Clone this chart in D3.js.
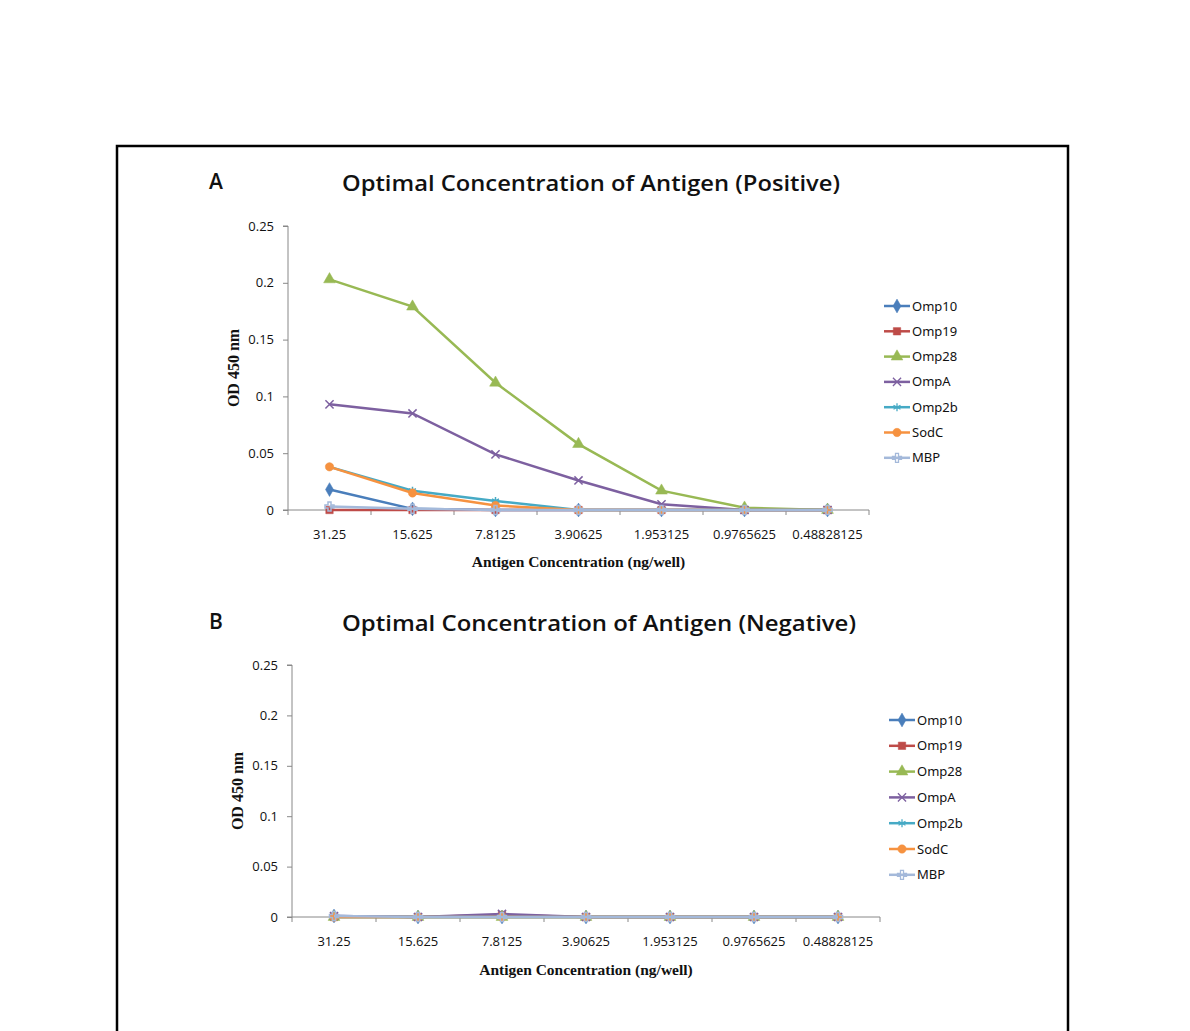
<!DOCTYPE html>
<html><head><meta charset="utf-8">
<script src="https://cdn.jsdelivr.net/npm/d3@7"></script>
<style>body{margin:0;background:#fff;} svg{display:block;}</style>
</head><body>
<svg id="c" width="1190" height="1031"></svg>
<script>
const categories = ["31.25","15.625","7.8125","3.90625","1.953125","0.9765625","0.48828125"];
const seriesNames = ["Omp10","Omp19","Omp28","OmpA","Omp2b","SodC","MBP"];
const seriesColors = ["#4A7EBB","#BE4B48","#98B954","#7D60A0","#46AAC5","#F69240","#A4B9DA"];
const seriesMarkers = ["diamond","square","triangle","x","star","circle","plus"];
const yTicks = [0,0.05,0.1,0.15,0.2,0.25];

// Panel A (Positive)
const posOmp10 = [0.018,0.001,0,0,0,0,0];
const posOmp19 = [0,0,0,0,0,0,0];
const posOmp28 = [0.203,0.179,0.112,0.058,0.017,0.002,0.0];
const posOmpA  = [0.093,0.085,0.049,0.026,0.005,0,0];
const posOmp2b = [0.038,0.017,0.008,0,0,0,0];
const posSodC  = [0.038,0.015,0.004,0,0,0,0];
const posMBP   = [0.003,0.001,0,0,0,0,0];

// Panel B (Negative)
const negOmp10 = [0.001,0,0,0,0,0,0];
const negOmp19 = [0,0,0.002,0,0,0,0];
const negOmp28 = [0,0,0,0,0,0,0];
const negOmpA  = [0.001,0,0.003,0,0,0,0];
const negOmp2b = [0,0,0,0,0,0,0];
const negSodC  = [0,0,0,0,0,0,0];
const negMBP   = [0.001,0,0,0,0,0,0];

const svg = d3.select("#c");
// outer frame
svg.append("rect").attr("x",117).attr("y",146).attr("width",951).attr("height",900)
  .attr("fill","none").attr("stroke","#000").attr("stroke-width",2.5);

function markerPath(type){
  const s = {diamond:d3.symbolDiamond,square:d3.symbolSquare,triangle:d3.symbolTriangle,
             circle:d3.symbolCircle,x:d3.symbolTimes,plus:d3.symbolCross,star:d3.symbolAsterisk}[type];
  let size = 55;
  if(type==="x"||type==="plus"||type==="star") size = 45;
  if(type==="triangle") size = 60;
  return d3.symbol(s, size)();
}
function strokeMarker(type){ return type==="x"||type==="star"||type==="plus"; }

function panel(cfg){
  const g = svg.append("g");
  const x = d3.scaleBand().domain(categories).range([cfg.x0,cfg.x1]);
  const y = d3.scaleLinear().domain([0,0.25]).range([cfg.y0,cfg.y1]);

  // letter & title
  g.append("text").attr("x",cfg.letterX).attr("y",cfg.letterY).text(cfg.letter)
    .attr("font-family","Open Sans, sans-serif").attr("font-weight",600).attr("font-size",21).attr("fill","#111");
  g.append("text").attr("x",cfg.titleX).attr("y",cfg.titleY).attr("text-anchor","middle")
    .text(cfg.title).attr("font-family","Open Sans, sans-serif").attr("font-weight",600).attr("font-size",22)
    .attr("textLength",cfg.titleLen).attr("lengthAdjust","spacingAndGlyphs").attr("fill","#111");

  // y axis
  const ya = d3.axisLeft(y).tickValues(yTicks).tickFormat(d=>d===0?"0":String(d)).tickSize(5).tickPadding(9);
  const yg = g.append("g").attr("transform",`translate(${cfg.x0},0)`).call(ya);
  yg.select(".domain").attr("stroke","#888").attr("d",`M-5,${cfg.y1}H0V${cfg.y0}`);
  yg.selectAll(".tick line").attr("stroke","#888");
  yg.selectAll("text").attr("font-family","Open Sans, sans-serif").attr("font-size",13).attr("fill","#111");

  // x axis
  const xa = d3.axisBottom(x).tickSize(0).tickPadding(20);
  const xg = g.append("g").attr("transform",`translate(0,${cfg.y0})`).call(xa);
  xg.select(".domain").attr("stroke","#888").attr("d",`M${cfg.x0-5},0H${cfg.x1}`);
  xg.selectAll("text").attr("font-family","Open Sans, sans-serif").attr("font-size",13).attr("fill","#111");
  // boundary ticks
  const bounds = categories.map(c=>x(c)).concat([cfg.x1]);
  xg.selectAll(".btick").data(bounds).enter().append("line").attr("class","btick")
    .attr("x1",d=>d).attr("x2",d=>d).attr("y1",0).attr("y2",5).attr("stroke","#888");

  // axis titles
  g.append("text").attr("x",(cfg.x0+cfg.x1)/2).attr("y",cfg.xTitleY).attr("text-anchor","middle")
    .text("Antigen Concentration (ng/well)").attr("font-family","Liberation Serif, serif")
    .attr("font-weight","bold").attr("font-size",15.5).attr("fill","#111");
  g.append("text").attr("transform",`translate(${cfg.yTitleX},${(cfg.y0+cfg.y1)/2}) rotate(-90)`)
    .attr("text-anchor","middle").text("OD 450 nm").attr("font-family","Liberation Serif, serif")
    .attr("font-weight","bold").attr("font-size",16).attr("fill","#111");

  const cx = c=>x(c)+x.bandwidth()/2;
  const line = d3.line().x((d,i)=>cx(categories[i])).y(d=>y(d));
  cfg.data.forEach((vals,si)=>{
    const col = seriesColors[si];
    g.append("path").datum(vals).attr("d",line).attr("fill","none").attr("stroke",col).attr("stroke-width",2.5);
    g.selectAll(null).data(vals).enter().append("path")
      .attr("transform",(d,i)=>`translate(${cx(categories[i])},${y(d)})`)
      .attr("d",markerPath(seriesMarkers[si]))
      .attr("fill",strokeMarker(seriesMarkers[si])?"none":col)
      .attr("stroke",col).attr("stroke-width",strokeMarker(seriesMarkers[si])?1.5:0.5);
  });

  // legend
  const lg = g.append("g");
  seriesNames.forEach((n,i)=>{
    const ly = cfg.legY + i*cfg.legStep;
    lg.append("line").attr("x1",cfg.legX).attr("x2",cfg.legX+26).attr("y1",ly).attr("y2",ly)
      .attr("stroke",seriesColors[i]).attr("stroke-width",2.5);
    lg.append("path").attr("transform",`translate(${cfg.legX+13},${ly})`).attr("d",markerPath(seriesMarkers[i]))
      .attr("fill",strokeMarker(seriesMarkers[i])?"none":seriesColors[i]).attr("stroke",seriesColors[i])
      .attr("stroke-width",strokeMarker(seriesMarkers[i])?1.3:0.5);
    lg.append("text").attr("x",cfg.legX+28).attr("y",ly+4.5).text(n)
      .attr("font-family","Noto Sans, sans-serif").attr("font-size",13).attr("fill","#111");
  });
}

panel({x0:288,x1:869,y0:510,y1:226,letter:"A",letterX:209,letterY:189,
  title:"Optimal Concentration of Antigen (Positive)",titleX:591,titleY:191,titleLen:498,
  xTitleY:567,yTitleX:239,legX:884,legY:306,legStep:25.3,
  data:[posOmp10,posOmp19,posOmp28,posOmpA,posOmp2b,posSodC,posMBP]});

panel({x0:292,x1:880,y0:917,y1:665,letter:"B",letterX:209,letterY:629,
  title:"Optimal Concentration of Antigen (Negative)",titleX:599,titleY:631,titleLen:514,
  xTitleY:975,yTitleX:243,legX:889,legY:720,legStep:25.8,
  data:[negOmp10,negOmp19,negOmp28,negOmpA,negOmp2b,negSodC,negMBP]});
</script>
</body></html>
